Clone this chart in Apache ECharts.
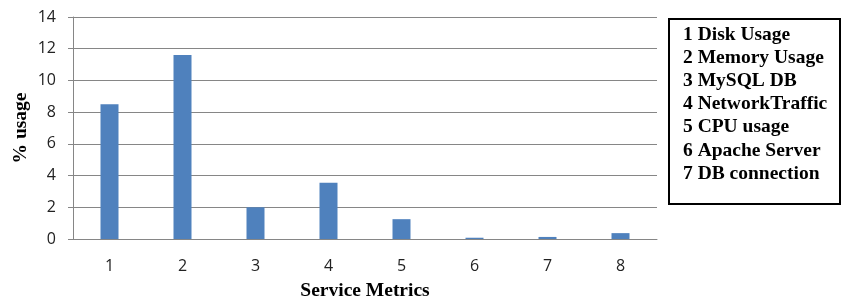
<!DOCTYPE html>
<html>
<head>
<meta charset="utf-8">
<script src="https://cdn.jsdelivr.net/npm/echarts@6/dist/echarts.min.js"></script>
<style>
  html, body { margin: 0; padding: 0; background: #fff; }
  #chart { width: 841px; height: 299px; }
</style>
</head>
<body>
<div id="chart"></div>
<script>
// metric ids on the x axis
const categories = ["1", "2", "3", "4", "5", "6", "7", "8"];
// % usage per metric
const usage = [8.5, 11.6, 2.0, 3.55, 1.25, 0.08, 0.13, 0.37];
// text in the legend box on the right
const legendLines = [
  "1 Disk Usage",
  "2 Memory Usage",
  "3 MySQL DB",
  "4 NetworkTraffic",
  "5 CPU usage",
  "6 Apache Server",
  "7 DB connection",
];

const chart = echarts.init(document.getElementById("chart"));

const serif = "'Liberation Serif', 'DejaVu Serif', serif";
const axisGray = "#868686";

let legendTexts = legendLines.map(function (line, i) {
  return {
    type: "text",
    left: 683,
    top: 25 + i * 23.1,
    style: {
      text: line,
      font: "bold 19.5px " + serif,
      fill: "#000",
    },
  };
});

let option = {
  animation: false,
  grid: {
    left: 73,
    width: 584,
    top: 17,
    height: 222,
    outerBoundsMode: "none",
    containLabel: false,
  },
  xAxis: {
    type: "category",
    data: categories,
    name: "Service Metrics",
    nameLocation: "middle",
    nameGap: 42,
    nameMoveOverlap: false,
    nameTextStyle: {
      fontFamily: serif,
      fontWeight: "bold",
      fontSize: 19.5,
      color: "#000",
    },
    axisLine: { lineStyle: { color: axisGray, width: 1 } },
    axisTick: { show: false },
    axisLabel: {
      margin: 19,
      fontFamily: "'Open Sans', sans-serif",
      fontSize: 16,
      color: "#222",
    },
  },
  yAxis: {
    type: "value",
    min: 0,
    max: 14,
    interval: 2,
    name: "% usage",
    nameLocation: "middle",
    nameGap: 42,
    nameMoveOverlap: false,
    nameTextStyle: {
      fontFamily: serif,
      fontWeight: "bold",
      fontSize: 19.5,
      color: "#000",
    },
    axisLine: { show: true, lineStyle: { color: axisGray, width: 1 } },
    axisTick: { show: true, length: 5, lineStyle: { color: axisGray } },
    splitLine: { lineStyle: { color: axisGray, width: 1 } },
    axisLabel: {
      margin: 17,
      fontFamily: "'Open Sans', sans-serif",
      fontSize: 16,
      color: "#222",
    },
  },
  series: [
    {
      type: "bar",
      data: usage,
      barWidth: 18,
      itemStyle: { color: "#4f81bd" },
    },
  ],
  graphic: [
    {
      type: "rect",
      left: 668,
      top: 18,
      shape: { width: 171, height: 185 },
      style: { fill: "#fff", stroke: "#000", lineWidth: 2 },
    },
  ].concat(legendTexts),
};

chart.setOption(option);
</script>
</body>
</html>
